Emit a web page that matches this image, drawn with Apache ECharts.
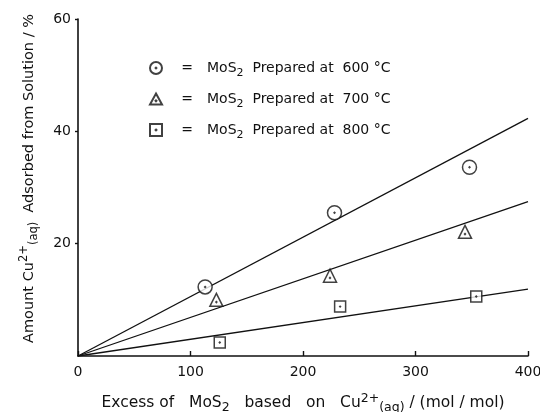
<!DOCTYPE html>
<html><head><meta charset="utf-8">
<script src="https://cdn.jsdelivr.net/npm/echarts@6/dist/echarts.min.js"></script>
<style>html,body{margin:0;padding:0;background:#fff}#c{width:540px;height:412px}</style>
</head><body><div id="c"></div>
<script>
// Data
const seriesNames = ['600', '700', '800'];
const s600 = [[113, 12.3], [228, 25.5], [348, 33.6]];
const s700 = [[123, 10.0], [224, 14.3], [344, 22.1]];
const s800 = [[126, 2.4], [233, 8.8], [354, 10.6]];
const fit600 = [[0, 0], [400, 42.3]];
const fit700 = [[0, 0], [400, 27.5]];
const fit800 = [[0, 0], [400, 11.9]];
const xTicks = [0, 100, 200, 300, 400];
const yTicks = [0, 20, 40, 60];

const circleSym = 'path://M0,-10 A10,10 0 1,1 0,10 A10,10 0 1,1 0,-10 Z M0,-0.6 L0.6,0 L0,0.6 L-0.6,0 Z';
const triSym = 'path://M0,-10 L10,8 L-10,8 Z M0,1.4 L0.7,2.1 L0,2.8 L-0.7,2.1 Z';
const sqSym = 'path://M-10,-10 L10,-10 L10,10 L-10,10 Z M0,-0.7 L0.7,0 L0,0.7 L-0.7,0 Z';

const font = 'DejaVu Sans';
const chart = echarts.init(document.getElementById('c'));
const mark = {color: '#fff', borderColor: '#111', borderWidth: 1.5};
function scatter(name, data, sym, size) {
  return {type: 'scatter', name: name, data: data, symbol: sym, symbolSize: size,
    itemStyle: mark, z: 5};
}
function fit(data) {
  return {type: 'line', data: data, showSymbol: false, symbol: 'none',
    lineStyle: {color: '#111', width: 1.3}, silent: true, z: 3};
}
function rich(fs) {
  return {
    t: {fontFamily: font, fontSize: fs, color: '#111', lineHeight: 22, verticalAlign: 'middle'},
    sub: {fontFamily: font, fontSize: fs - 3, color: '#111', lineHeight: 22, verticalAlign: 'bottom'},
    sup: {fontFamily: font, fontSize: fs - 3, color: '#111', lineHeight: 22, verticalAlign: 'top'},
    eq: {fontFamily: font, fontSize: fs, color: '#111', width: 40, align: 'center', lineHeight: 22, verticalAlign: 'middle'}
  };
}
chart.setOption({
  animation: false,
  backgroundColor: '#fff',
  grid: {left: 78, right: 12, top: 19, bottom: 56, containLabel: false, outerBoundsMode: 'none'},
  legend: {
    orient: 'vertical', left: 144, top: 56, itemGap: 13,
    itemWidth: 12, itemHeight: 12,
    data: seriesNames,
    formatter: function (n) { return '{eq|=}{t|MoS}{sub|2}{t|  Prepared at  ' + n + ' °C}'; },
    textStyle: {rich: rich(14)}
  },
  xAxis: {
    type: 'value', min: xTicks[0], max: xTicks[xTicks.length - 1], interval: 100,
    axisLine: {onZero: false, lineStyle: {color: '#111', width: 1.6}},
    axisTick: {inside: true, length: 5, lineStyle: {color: '#111', width: 1.4}},
    axisLabel: {color: '#111', fontFamily: font, fontSize: 14, margin: 9},
    splitLine: {show: false},
    name: '{t|Excess of   MoS}{sub|2}{t|   based   on   Cu}{sup|2+}{sub|(aq)}{t| / (mol / mol)}',
    nameLocation: 'middle', nameGap: 36,
    nameTextStyle: {rich: rich(15.5)}
  },
  yAxis: {
    type: 'value', min: yTicks[0], max: yTicks[yTicks.length - 1], interval: 20,
    axisLine: {show: true, onZero: false, lineStyle: {color: '#111', width: 1.6}},
    axisTick: {show: true, inside: false, length: 3, lineStyle: {color: '#111', width: 1.4}},
    axisLabel: {color: '#111', fontFamily: font, fontSize: 14, margin: 7, showMinLabel: false},
    splitLine: {show: false},
    name: '{t|Amount Cu}{sup|2+}{sub|(aq)}{t|  Adsorbed from Solution / %}',
    nameLocation: 'middle', nameGap: 38, nameRotate: 90,
    nameTextStyle: {rich: rich(14.5), padding: [0, 0, 0, 18]}
  },
  series: [
    fit(fit600), fit(fit700), fit(fit800),
    scatter('600', s600, circleSym, 14),
    scatter('700', s700, triSym, 13),
    scatter('800', s800, sqSym, 11)
  ]
});
</script></body></html>
